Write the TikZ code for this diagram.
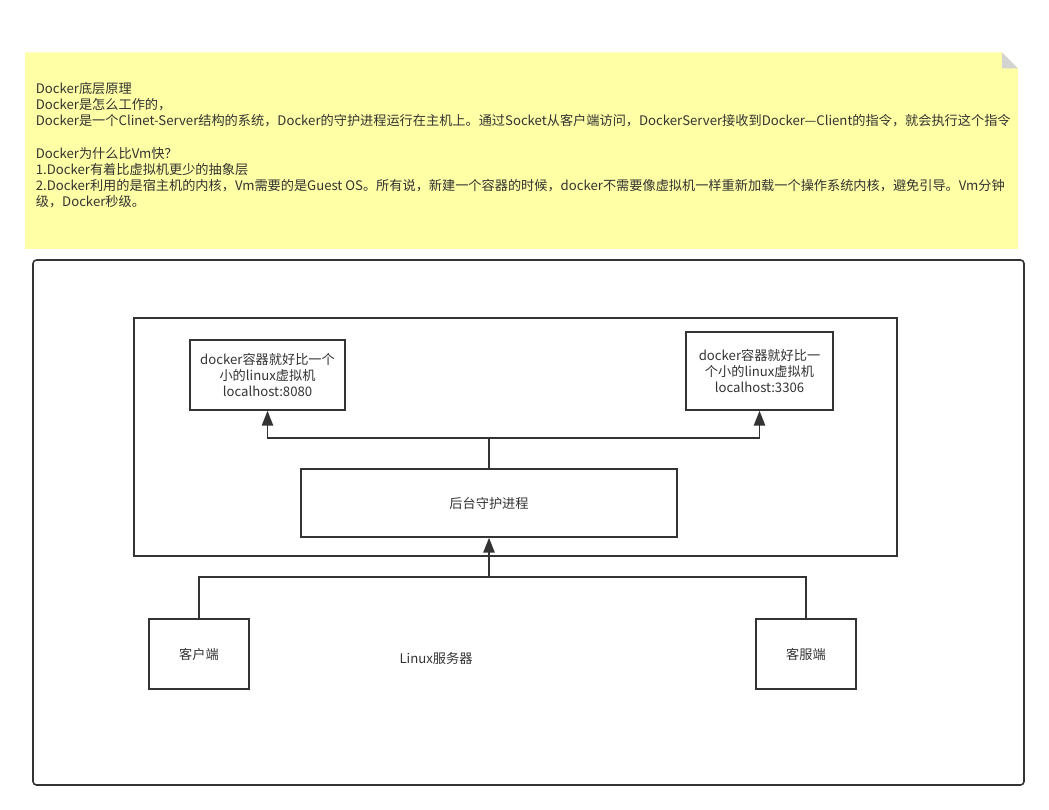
\documentclass[tikz,border=0pt]{standalone}
\usepackage{fontspec}
\setmainfont{Noto Sans CJK SC}
\usepackage{xcolor}
\usetikzlibrary{positioning}
\usetikzlibrary{arrows.meta,calc}

\definecolor{notefill}{HTML}{FFFFA6}
\definecolor{foldgray}{HTML}{D3D3D3}
\definecolor{linegray}{HTML}{333333}
\definecolor{textgray}{HTML}{333333}

\begin{document}
\begin{tikzpicture}[
    every node/.style={text=textgray, font=\fontsize{7.5}{9.2}\selectfont},
    box/.style={draw=linegray, line width=0.9pt, rectangle, align=center, inner sep=0pt},
    conn/.style={draw=linegray, line width=0.9pt},
    up/.style={-{Triangle[length=8.5pt, width=6.5pt]}}
]
	\useasboundingbox (0,0) rectangle (20.98,-16.2);
	% note with folded corner
	\fill[notefill] (0.5,-1.05) -- (20.04,-1.05) -- (20.36,-1.37) -- (20.36,-4.98) -- (0.5,-4.98) -- cycle;
	\fill[foldgray] (20.04,-1.05) -- (20.04,-1.37) -- (20.36,-1.37) -- cycle;
	\node[anchor=north west, align=left, inner sep=0pt] (note) at (0.71,-1.64) {Docker底层原理\\
		Docker是怎么工作的，\\
		Docker是一个Clinet-Server结构的系统，Docker的守护进程运行在主机上。通过Socket从客户端访问，DockerServer接收到Docker—Client的指令，就会执行这个指令\\
		\mbox{}\\
		Docker为什么比Vm快？\\
		1.Docker有着比虚拟机更少的抽象层\\
		2.Docker利用的是宿主机的内核，Vm需要的是Guest OS。所有说，新建一个容器的时候，docker不需要像虚拟机一样重新加载一个操作系统内核，避免引导。Vm分钟\\
		级，Docker秒级。};

	% linux server frame
	\node[box, rounded corners=2pt, minimum width=19.82cm, minimum height=10.5cm] (linux) at (10.57,-10.45) {};
	\node (linuxlabel) at (8.72,-13.16) {Linux服务器};
	\node[box, minimum width=15.26cm, minimum height=4.76cm] (host) at (10.31,-8.74) {};

	% containers and daemon
	\node[box, minimum width=3.1cm, minimum height=1.4cm] (vm1) at (5.35,-7.5) {docker容器就好比一个\\小的linux虚拟机\\localhost:8080};
	\node[box, minimum width=2.94cm, minimum height=1.56cm] (vm2) at (15.19,-7.42) {docker容器就好比一\\个小的linux虚拟机\\localhost:3306};
	\node[box, minimum width=7.52cm, minimum height=1.36cm] (daemon) at (9.78,-10.06) {\raisebox{-0.5ex}{后台守护进程}};

	% clients
	\node[box, minimum width=2cm, minimum height=1.4cm] (client) at (3.98,-13.08) {\raisebox{-0.3ex}{客户端}};
	\node[box, minimum width=2cm, minimum height=1.4cm] (service) at (16.12,-13.08) {\raisebox{-0.3ex}{客服端}};

	% daemon -> containers
	\draw[conn] (daemon.north) -- ++(0,0.6) coordinate (fork);
	\draw[conn, up] (fork) -| (vm1.south);
	\draw[conn, up] (fork) -| (vm2.south);

	% clients -> daemon
	\draw[conn] (client.north) -- ++(0,0.82) coordinate (join) -| (service.north);
	\draw[conn, up] (daemon.south |- join) -- (daemon.south);
\end{tikzpicture}
\end{document}
